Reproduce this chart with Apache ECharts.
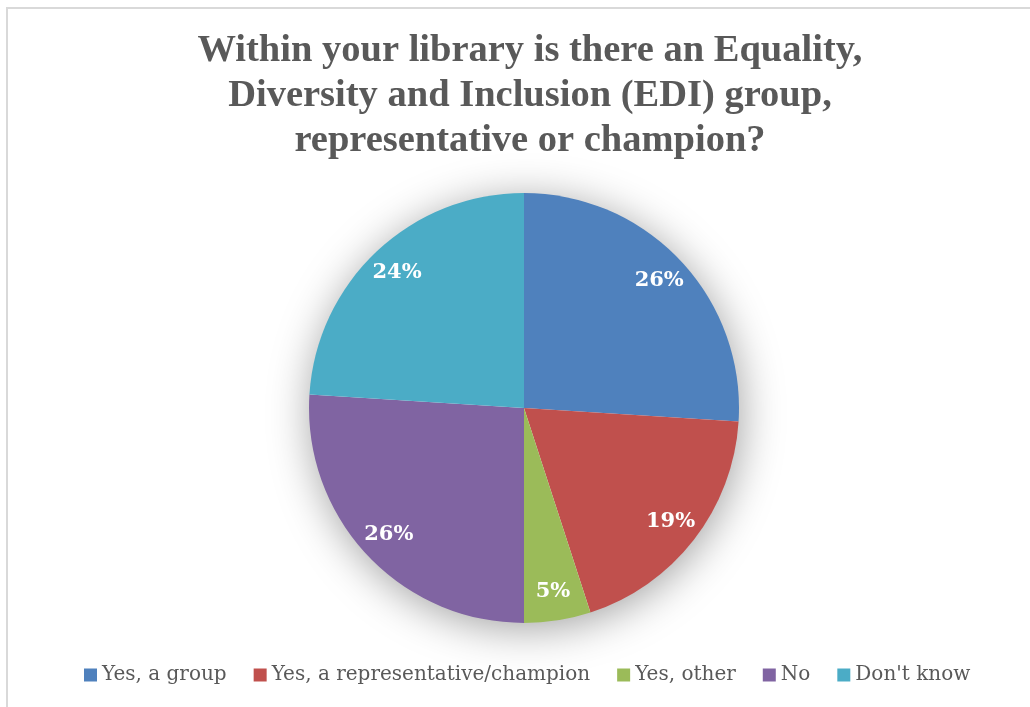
<!DOCTYPE html>
<html>
<head>
<meta charset="utf-8">
<script src="https://cdn.jsdelivr.net/npm/echarts@6/dist/echarts.min.js"></script>
<style>
  html, body { margin: 0; padding: 0; background: #ffffff; }
  #frame {
    position: absolute; left: 6px; top: 7px; width: 1030px; height: 710px;
    border-left: 2px solid #d9d9d9; border-top: 2px solid #d9d9d9;
    box-sizing: border-box;
  }
  #chart { position: absolute; left: 0; top: 0; width: 1030px; height: 707px; }
</style>
</head>
<body>
<div id="frame"></div>
<div id="chart"></div>
<script>
// Survey answers and their share of responses (%)
const categories = ['Yes, a group', 'Yes, a representative/champion', 'Yes, other', 'No', "Don't know"];
const shares = [26, 19, 5, 26, 24];
const colors = ['#4F81BD', '#C0504D', '#9BBB59', '#8064A2', '#4BACC6'];
const titleText = 'Within your library is there an Equality,\nDiversity and Inclusion (EDI) group,\nrepresentative or champion?';

const titleFont = '"Liberation Serif", "DejaVu Serif", serif';
const bodyFont = '"DejaVu Serif", "Liberation Serif", serif';
const center = [524, 408];
const R = 215;

const pieData = categories.map((name, i) => ({
  name: name,
  value: shares[i],
  itemStyle: { color: colors[i] }
}));

const chart = echarts.init(document.getElementById('chart'), null, { renderer: 'canvas' });
chart.setOption({
  animation: false,
  backgroundColor: 'transparent',
  title: {
    text: titleText,
    left: 525,
    top: 24,
    textAlign: 'center',
    textStyle: {
      fontFamily: titleFont,
      fontWeight: 'bold',
      fontSize: 38.5,
      lineHeight: 45,
      color: '#595959'
    }
  },
  legend: {
    bottom: 17,
    left: 79,
    itemWidth: 13,
    itemHeight: 13,
    itemGap: 27,
    icon: 'rect',
    data: categories,
    textStyle: { fontFamily: bodyFont, fontSize: 20, color: '#595959' }
  },
  series: [
    {
      // soft drop shadow under the whole pie
      type: 'pie',
      silent: true,
      center: center,
      radius: [0, R - 1],
      z: 1,
      label: { show: false },
      labelLine: { show: false },
      itemStyle: {
        color: '#ffffff',
        shadowBlur: 44,
        shadowColor: 'rgba(0,0,0,0.38)',
        shadowOffsetX: 2,
        shadowOffsetY: 6
      },
      data: [{ value: 1, name: '' }],
      legendHoverLink: false
    },
    {
      type: 'pie',
      center: center,
      radius: [0, R],
      startAngle: 90,
      clockwise: true,
      z: 2,
      label: { show: false },
      labelLine: { show: false },
      itemStyle: { borderWidth: 0 },
      data: pieData
    },
    {
      // percentage labels placed near the outer edge
      type: 'pie',
      center: center,
      radius: [150, R],
      startAngle: 90,
      clockwise: true,
      silent: true,
      z: 3,
      legendHoverLink: false,
      itemStyle: { color: 'rgba(0,0,0,0)' },
      label: {
        show: true,
        position: 'inside',
        formatter: p => shares[p.dataIndex] + '%',
        fontFamily: bodyFont,
        fontWeight: 'bold',
        fontSize: 21,
        color: '#ffffff'
      },
      labelLine: { show: false },
      data: categories.map((name, i) => ({ name: name + ' ', value: shares[i] }))
    }
  ]
});
</script>
</body>
</html>
